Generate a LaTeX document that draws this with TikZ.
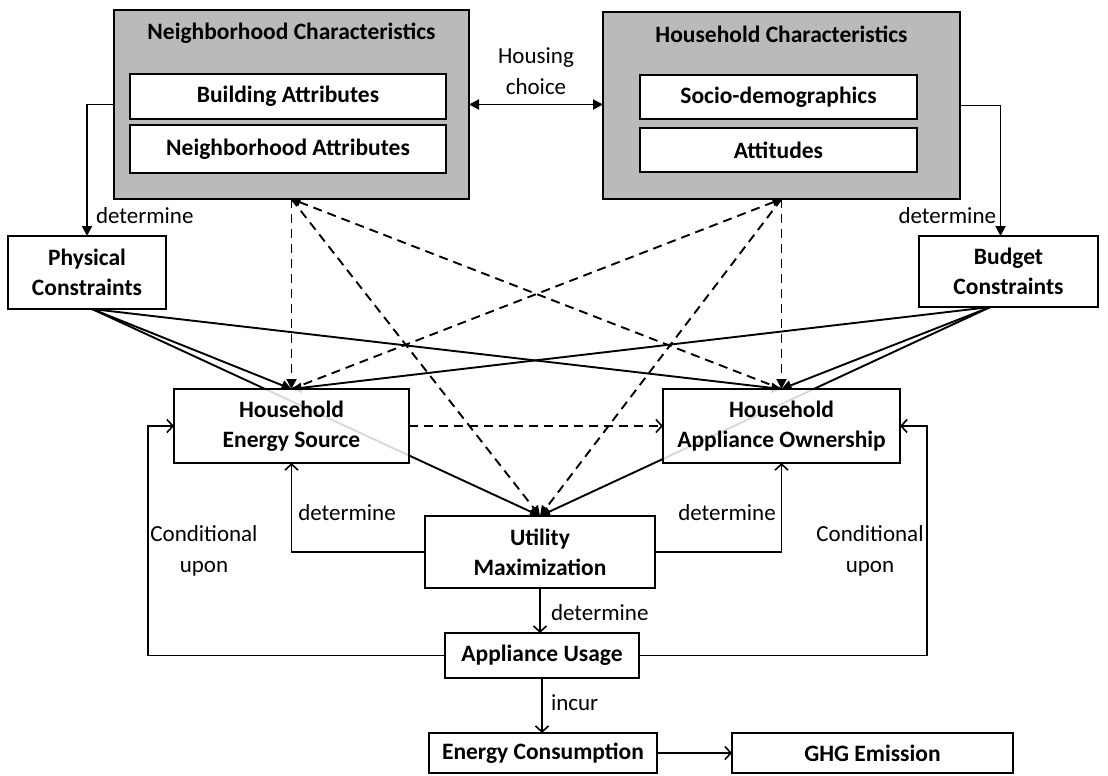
\documentclass[tikz,border=0pt]{standalone}
\usepackage{fontspec}
\setmainfont{Carlito}
\usetikzlibrary{arrows.meta}
\pgfdeclarelayer{bg}
\pgfsetlayers{bg,main}
\begin{document}
\begin{tikzpicture}[x=1pt,y=-1pt,
 every node/.style={inner sep=0pt, outer sep=0pt},
 outer/.style={draw, line width=2pt, fill=black!27},
 inbox/.style={draw, line width=1.8pt, fill=white, font=\bfseries\fontsize{23.5}{28}\selectfont, align=center},
 box/.style={draw, line width=2pt, fill=white, font=\bfseries\fontsize{23.5}{30}\selectfont, align=center},
 ttl/.style={font=\bfseries\fontsize{23.5}{28}\selectfont},
 lbl/.style={font=\fontsize{23}{31}\selectfont, align=center},
 conn/.style={line width=1.9pt},
 dsh/.style={line width=1.9pt, dash pattern=on 9pt off 6pt},
 fa/.style={-{Triangle[length=10pt,width=10pt]}},
 oa/.style={-{Straight Barb[length=6pt,width=13pt,line width=1.6pt]}},
]
\useasboundingbox (0,0) rectangle (1108,776);
% characteristic boxes
\node[outer, minimum width=355pt, minimum height=189pt] (NC) at (291.5,104.5) {};
\node[ttl] (NCt) at (291.5,33) {Neighborhood Characteristics};
\node[inbox, minimum width=316pt, minimum height=45pt] (BA) at (288,96.5) {Building Attributes};
\node[inbox, minimum width=316pt, minimum height=48pt] (NA) at (288,149) {Neighborhood Attributes};
\node[outer, minimum width=357pt, minimum height=187pt] (HC) at (781.5,105.5) {};
\node[ttl] (HCt) at (781.5,34) {Household Characteristics};
\node[inbox, minimum width=277pt, minimum height=44pt] (SD) at (778.5,97) {Socio-demographics};
\node[inbox, minimum width=277pt, minimum height=44pt] (AT) at (778.5,150) {Attitudes};
% other boxes
\node[box, minimum width=158pt, minimum height=73pt] (PC) at (87,272.5) {Physical\\Constraints};
\node[box, minimum width=179pt, minimum height=71pt] (BC) at (1008.5,271.5) {Budget\\Constraints};
\node[box, fill opacity=0.85, text opacity=1, minimum width=235pt, minimum height=74pt] (ES) at (291.5,426) {Household\\Energy Source};
\node[box, fill opacity=0.85, text opacity=1, minimum width=237pt, minimum height=74pt] (AO) at (781.5,426) {Household\\Appliance Ownership};
\node[box, minimum width=230pt, minimum height=72pt] (UM) at (540,552) {Utility\\Maximization};
\node[box, minimum width=194pt, minimum height=45pt] (AU) at (542,655.5) {Appliance Usage};
\node[box, minimum width=228pt, minimum height=40pt] (EC) at (543,753) {Energy Consumption};
\node[box, minimum width=281pt, minimum height=40pt] (GH) at (872.5,753) {GHG Emission};
% labels
\node[lbl] (hcl) at (536,71) {Housing\\choice};
\node[lbl, anchor=west] (dl1) at (96,216) {determine};
\node[lbl, anchor=east] (dl2) at (996,216) {determine};
\node[lbl] (dl3) at (347,513) {determine};
\node[lbl] (dl4) at (727,513) {determine};
\node[lbl, anchor=west] (dl5) at (551,613) {determine};
\node[lbl, anchor=west] (il) at (551,703) {incur};
\node[lbl] (cu1) at (204,551) {Conditional\\upon};
\node[lbl] (cu2) at (870,551) {Conditional\\upon};
\coordinate (cl) at (148,0);
\coordinate (cr) at (927,0);
\begin{pgfonlayer}{bg}
\coordinate (pcs) at ([xshift=5pt]PC.south);
\coordinate (bcs) at ([xshift=-18pt]BC.south);
\draw[conn,fa] (pcs) -- (ES.north);
\draw[conn,fa] (pcs) -- (AO.north);
\draw[conn,fa] (pcs) -- (UM.north);
\draw[conn,fa] (bcs) -- (AO.north);
\draw[conn,fa] (bcs) -- (ES.north);
\draw[conn,fa] (bcs) -- (UM.north);
\draw[dsh,fa] (NC.south) -- (ES.north);
\draw[dsh,fa] (NC.south) -- (UM.north);
\draw[dsh,fa,{Triangle[length=9pt,width=8pt]}-] (NC.south) -- (AO.north);
\draw[dsh,fa] (HC.south) -- (AO.north);
\draw[dsh,fa] (HC.south) -- (UM.north);
\draw[dsh,fa,{Triangle[length=9pt,width=8pt]}-] (HC.south) -- (ES.north);
\end{pgfonlayer}
\draw[dsh,oa] (ES.east) -- (AO.west);
\draw[conn,fa] (NC.west) -| (PC.north);
\draw[conn,fa] (HC.east) -| ([xshift=-8pt]BC.north);
\draw[conn,{Triangle[length=10pt,width=10pt]}-{Triangle[length=10pt,width=10pt]}] (NC.east) -- (NC.east -| HC.west);
\draw[conn,oa] (UM.west) -| (ES.south);
\draw[conn,oa] (UM.east) -| (AO.south);
\draw[conn,oa] (UM.south) -- (UM.south |- AU.north);
\draw[conn,oa] (AU.south) -- (AU.south |- EC.north);
\draw[conn,oa] (EC.east) -- (GH.west);
\draw[conn,oa] (AU.west) -| (cl |- ES.west) -- (ES.west);
\draw[conn,oa] (AU.east) -| (cr |- AO.east) -- (AO.east);
\end{tikzpicture}
\end{document}
